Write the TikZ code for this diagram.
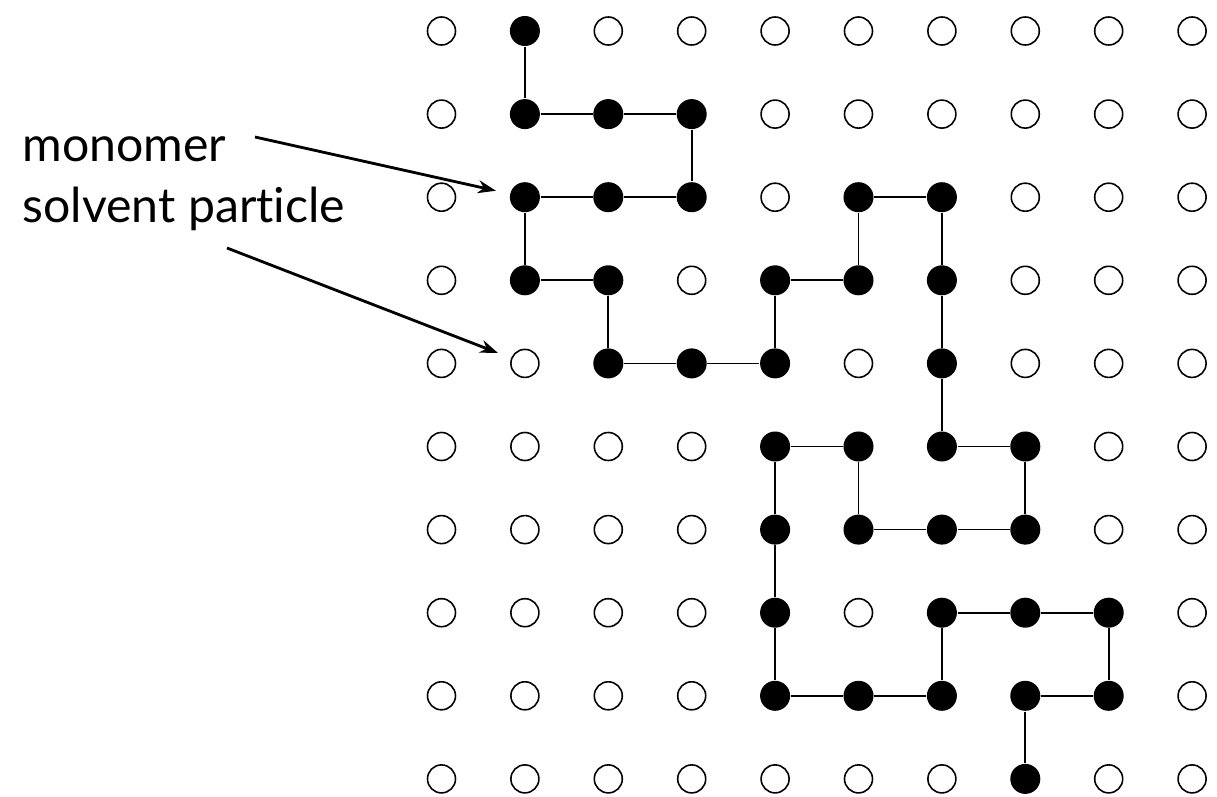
\documentclass[tikz,border=0pt]{standalone}
\usepackage{fontspec}
\setmainfont{Lato}[Ligatures=NoCommon]
\usetikzlibrary{arrows.meta}
\begin{document}
\begin{tikzpicture}[x=0.01cm,y=-0.01cm,
  site/.style={circle,draw=black,line width=0.45pt,minimum size=0.28cm,inner sep=0pt},
  mono/.style={circle,fill=black,minimum size=0.30cm,inner sep=0pt},
  bond/.style={line width=0.5pt},
  pointer/.style={line width=0.8pt,shorten >=0.14cm,-{Stealth[length=0.18cm,width=0.13cm]}},
  txt/.style={anchor=base west,inner sep=0pt,font=\fontsize{13.7}{16}\selectfont}]
\useasboundingbox (0,0) rectangle (1217,797);
\foreach \c/\r in {1/0,1/1,2/1,3/1,1/2,2/2,3/2,5/2,6/2,1/3,2/3,4/3,5/3,6/3,2/4,3/4,4/4,6/4,4/5,5/5,6/5,7/5,4/6,5/6,6/6,7/6,4/7,6/7,7/7,8/7,4/8,5/8,6/8,7/8,8/8,7/9}{\expandafter\gdef\csname filled\c-\r\endcsname{}}
\foreach \c in {0,...,9}{\foreach \r in {0,...,9}{
  \ifcsname filled\c-\r\endcsname
   \node[mono] (n\c-\r) at ({441.5+83.4*\c},{31+83.1*\r}) {};
  \else
   \node[site] (n\c-\r) at ({441.5+83.4*\c},{31+83.1*\r}) {};
  \fi}}
\draw[bond] (n1-0) -- (n1-1) -- (n2-1) -- (n3-1) -- (n3-2) -- (n2-2) -- (n1-2) -- (n1-3) -- (n2-3) -- (n2-4) -- (n3-4) -- (n4-4) -- (n4-3) -- (n5-3) -- (n5-2) -- (n6-2) -- (n6-3) -- (n6-4) -- (n6-5) -- (n7-5) -- (n7-6) -- (n6-6) -- (n5-6) -- (n5-5) -- (n4-5) -- (n4-6) -- (n4-7) -- (n4-8) -- (n5-8) -- (n6-8) -- (n6-7) -- (n7-7) -- (n8-7) -- (n8-8) -- (n7-8) -- (n7-9);
\node[txt] (monomer) at (22,162) {monomer};
\node[txt] (solvent) at (22,222) {solvent particle};
\coordinate (a1) at (255,137);
\coordinate (a2) at (227,248);
\draw[pointer] (a1) -- (n1-2);
\draw[pointer] (a2) -- (n1-4);
\end{tikzpicture}
\end{document}
